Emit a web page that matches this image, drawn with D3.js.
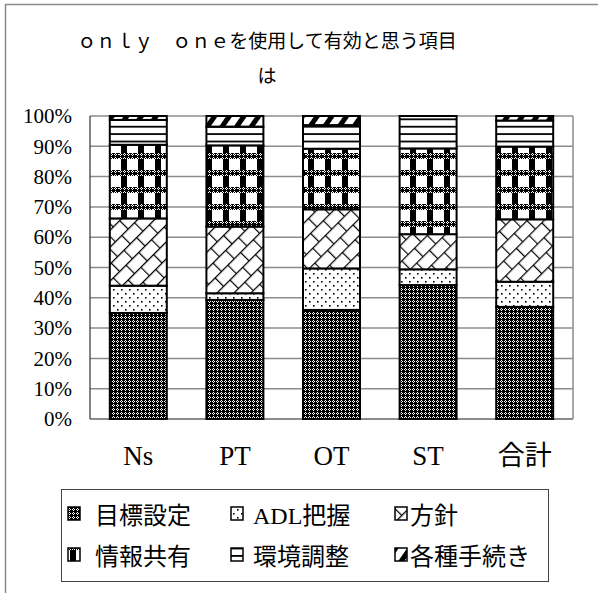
<!DOCTYPE html>
<html>
<head>
<meta charset="utf-8">
<script src="https://cdn.jsdelivr.net/npm/d3@7"></script>
<style>
  body { margin: 0; background: #fff; }
  text { fill: #000; }
</style>
</head>
<body>
<div id="grapharea"></div>
<script>
//categories along the x axis
var categories = ["Ns", "PT", "OT", "ST", "合計"];

//series names, bottom to top of the stack
var seriesNames = ["目標設定", "ADL把握", "方針", "情報共有", "環境調整", "各種手続き"];

//percentages, one array per series
var mokuhyou  = [35.0, 39.3, 36.0, 44.2, 37.0];
var adl       = [ 9.0,  2.2, 13.7,  5.2,  8.3];
var houshin   = [22.2, 22.0, 19.5, 11.6, 20.6];
var jouhou    = [24.3, 26.8, 20.0, 28.3, 24.0];
var kankyou   = [ 8.2,  6.2,  7.8, 10.7,  8.6];
var tetsuduki = [ 1.3,  3.5,  3.0,  0.0,  1.5];

var yTicks = [0, 10, 20, 30, 40, 50, 60, 70, 80, 90, 100];
var titleLines = ["ｏｎｌｙ　ｏｎｅを使用して有効と思う項目", "は"];

var seriesValues = [mokuhyou, adl, houshin, jouhou, kankyou, tetsuduki];

//building rows for d3.stack
var table = categories.map(function(c, i){
  var row = {cat: c};
  seriesNames.forEach(function(s, j){ row[s] = seriesValues[j][i]; });
  return row;
});

var W = 598, H = 593;
var plot = {left: 90, right: 573, top: 116, bottom: 419};

var svg = d3.select("#grapharea").append("svg")
  .attr("width", W)
  .attr("height", H);

var defs = svg.append("defs");

//--- fill patterns, one per series ---
//dense crosshatch (目標設定)
var p0 = defs.append("pattern").attr("id", "p0")
  .attr("patternUnits", "userSpaceOnUse").attr("width", 4).attr("height", 4);
p0.append("rect").attr("width", 4).attr("height", 4).attr("fill", "#000");
[[1,0],[0,1],[2,1],[1,2]].forEach(function(p){
  p0.append("rect").attr("x", p[0]).attr("y", p[1]).attr("width", 1).attr("height", 1).attr("fill", "#fff");
});

//sparse dots (ADL把握)
var p1 = defs.append("pattern").attr("id", "p1")
  .attr("patternUnits", "userSpaceOnUse").attr("width", 8).attr("height", 8);
p1.append("rect").attr("width", 8).attr("height", 8).attr("fill", "#fff");
[[1,1],[5,5]].forEach(function(p){
  p1.append("rect").attr("x", p[0]).attr("y", p[1]).attr("width", 1.6).attr("height", 1.6).attr("fill", "#000");
});

//diagonal brick / shingle (方針)
var p2 = defs.append("pattern").attr("id", "p2")
  .attr("patternUnits", "userSpaceOnUse").attr("width", 18).attr("height", 24)
  .attr("patternTransform", "rotate(-45)");
p2.append("rect").attr("width", 18).attr("height", 24).attr("fill", "#fff");
p2.append("path")
  .attr("d", "M0,0.6H18M0,12.6H18M0.6,0V12.6M9.6,12.6V24")
  .attr("stroke", "#000").attr("stroke-width", 1.2).attr("fill", "none");

//plaid (情報共有)
var p3 = defs.append("pattern").attr("id", "p3")
  .attr("patternUnits", "userSpaceOnUse").attr("width", 17).attr("height", 17);
p3.append("rect").attr("width", 17).attr("height", 17).attr("fill", "#fff");
p3.append("rect").attr("width", 17).attr("height", 6).attr("fill", "url(#p0)");
p3.append("rect").attr("x", 2).attr("y", 6).attr("width", 6).attr("height", 11).attr("fill", "#000");

//horizontal lines (環境調整)
var p4 = defs.append("pattern").attr("id", "p4")
  .attr("patternUnits", "userSpaceOnUse").attr("width", 10).attr("height", 7.4);
p4.append("rect").attr("width", 10).attr("height", 7.4).attr("fill", "#fff");
p4.append("rect").attr("y", 0).attr("width", 10).attr("height", 1.8).attr("fill", "#000");

//thick slanted stripes (各種手続き)
var p5 = defs.append("pattern").attr("id", "p5")
  .attr("patternUnits", "userSpaceOnUse").attr("width", 12).attr("height", 12)
  .attr("patternTransform", "rotate(35)");
p5.append("rect").attr("width", 12).attr("height", 12).attr("fill", "#fff");
p5.append("rect").attr("width", 5).attr("height", 12).attr("fill", "#000");

var fills = ["url(#p0)", "url(#p1)", "url(#p2)", "url(#p3)", "url(#p4)", "url(#p5)"];

//outer chart frame, its right and bottom sides fall outside the picture
svg.append("rect")
  .attr("x", 5.5).attr("y", 4.5)
  .attr("width", 800).attr("height", 800)
  .attr("fill", "none").attr("stroke", "#8a8a8a").attr("stroke-width", 1.5);

//scales
var x = d3.scaleBand()
  .domain(categories)
  .range([plot.left, plot.right])
  .paddingInner(0.41)
  .paddingOuter(0.205);

var y = d3.scaleLinear()
  .domain([0, 100])
  .range([plot.bottom, plot.top]);

//gridlines
svg.append("g")
  .selectAll("line")
  .data(yTicks)
  .join("line")
  .attr("x1", plot.left).attr("x2", plot.right)
  .attr("y1", function(d){ return y(d); })
  .attr("y2", function(d){ return y(d); })
  .attr("stroke", "#8c8c8c")
  .attr("stroke-width", function(d){ return d === 0 ? 2 : 1.5; });

//plot area sides
svg.append("line")
  .attr("x1", plot.right).attr("x2", plot.right)
  .attr("y1", plot.top).attr("y2", plot.bottom)
  .attr("stroke", "#8c8c8c").attr("stroke-width", 1.5);
svg.append("line")
  .attr("x1", plot.left).attr("x2", plot.left)
  .attr("y1", plot.top).attr("y2", plot.bottom)
  .attr("stroke", "#333").attr("stroke-width", 1.2);

//stacked bars
var stacked = d3.stack().keys(seriesNames)(table);

svg.append("g")
  .selectAll("g")
  .data(stacked)
  .join("g")
  .attr("fill", function(d, i){ return fills[i]; })
  .selectAll("rect")
  .data(function(d){ return d.filter(function(s){ return s[1] - s[0] > 0; }); })
  .join("rect")
  .attr("x", function(d){ return x(d.data.cat); })
  .attr("width", x.bandwidth())
  .attr("y", function(d){ return y(d[1]); })
  .attr("height", function(d){ return y(d[0]) - y(d[1]); })
  .attr("stroke", "#000")
  .attr("stroke-width", 2);

//y axis labels, no tick marks
var yAxis = svg.append("g")
  .attr("transform", "translate(" + plot.left + ",0)")
  .call(d3.axisLeft(y).tickValues(yTicks).tickSize(0).tickPadding(18)
    .tickFormat(function(d){ return d + "%"; }));
yAxis.select(".domain").remove();
yAxis.attr("font-family", null);
yAxis.selectAll("text")
  .attr("fill", "#000")
  .style("font-family", "'Liberation Serif', serif")
  .style("font-size", "21px");

//x axis labels
var xAxis = svg.append("g")
  .attr("transform", "translate(0," + plot.bottom + ")")
  .call(d3.axisBottom(x).tickSize(0).tickPadding(0));
xAxis.select(".domain").remove();
xAxis.attr("font-family", null);
xAxis.selectAll("text")
  .attr("y", 46)
  .attr("dy", 0)
  .attr("fill", "#000")
  .style("font-family", "'Liberation Serif', 'Noto Sans CJK JP', serif")
  .style("font-size", "27px");

//title, two lines
svg.append("g")
  .selectAll("text")
  .data(titleLines)
  .join("text")
  .attr("x", 267)
  .attr("y", function(d, i){ return 48 + i * 35; })
  .attr("text-anchor", "middle")
  .style("font-family", "'Noto Sans CJK JP', sans-serif")
  .style("font-size", "19px")
  .text(function(d){ return d; });

//legend, three columns by two rows
var legend = svg.append("g");
legend.append("rect")
  .attr("x", 61.5).attr("y", 489.5)
  .attr("width", 487).attr("height", 92)
  .attr("fill", "#fff").attr("stroke", "#444").attr("stroke-width", 1);

var colSwatch = [68, 231, 395],
  colText = [95, 253, 410],
  rowBase = [524, 565];

var items = legend.selectAll("g.item")
  .data(seriesNames)
  .join("g")
  .attr("class", "item");

items.append("rect")
  .attr("x", function(d, i){ return colSwatch[i % 3]; })
  .attr("y", function(d, i){ return rowBase[Math.floor(i / 3)] - 17; })
  .attr("width", 12).attr("height", 13)
  .attr("fill", function(d, i){ return fills[i]; })
  .attr("stroke", "#000").attr("stroke-width", 1.5);

items.append("text")
  .attr("x", function(d, i){ return colText[i % 3]; })
  .attr("y", function(d, i){ return rowBase[Math.floor(i / 3)]; })
  .style("font-family", "'Liberation Serif', 'Noto Sans CJK JP', serif")
  .style("font-size", "24px")
  .text(function(d){ return d; });
</script>
</body>
</html>
